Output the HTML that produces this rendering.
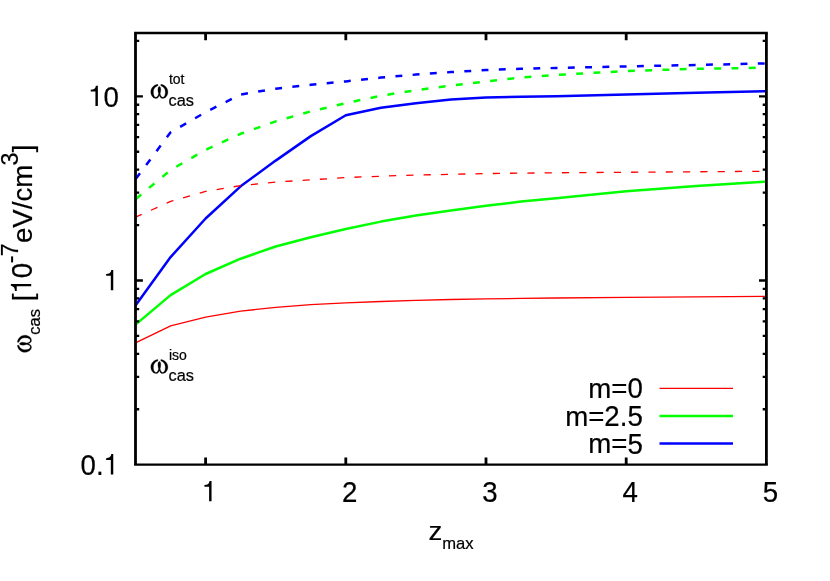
<!DOCTYPE html>
<html><head><meta charset="utf-8"><title>plot</title>
<style>html,body{margin:0;padding:0;background:#fff;}svg{display:block;will-change:transform;}text{font-family:"Liberation Sans",sans-serif;fill:#000;stroke:#000;stroke-width:0.2px;}.sym{font-family:"Liberation Serif",serif;}</style>
</head><body>
<svg width="830" height="581" viewBox="0 0 830 581">
<rect x="0" y="0" width="830" height="581" fill="#ffffff"/>
<polyline points="135.5,342.9 170.6,325.9 205.6,317.2 240.6,311.2 275.7,307.3 310.8,304.7 345.8,302.9 380.9,301.5 415.9,300.3 450.9,299.5 486.0,298.9 521.0,298.4 556.1,298.0 626.2,297.3 696.3,296.8 766.4,296.4" fill="none" stroke="#ff0000" stroke-width="1.3" stroke-linejoin="round"/>
<polyline points="135.5,324.6 170.6,295.1 205.6,274.0 240.6,258.7 275.7,246.5 310.8,237.2 345.8,229.0 380.9,221.6 415.9,215.4 450.9,210.4 486.0,205.8 521.0,201.6 556.1,198.2 626.2,191.3 696.3,186.1 766.4,181.6" fill="none" stroke="#00ff00" stroke-width="2.5" stroke-linejoin="round"/>
<polyline points="135.5,305.4 170.6,257.1 205.6,218.5 240.6,186.3 275.7,160.6 310.8,136.1 345.8,115.2 380.9,107.7 415.9,103.2 450.9,99.4 486.0,97.4 521.0,96.7 556.1,96.3 626.2,94.4 696.3,92.8 766.4,91.2" fill="none" stroke="#0000ff" stroke-width="2.5" stroke-linejoin="round"/>
<polyline points="135.5,217.2 170.6,201.4 205.6,191.4 240.6,185.6 275.7,182.1 310.8,179.8 345.8,177.6 380.9,176.2 415.9,175.1 450.9,174.3 486.0,173.6 521.0,173.1 556.1,172.8 626.2,172.3 696.3,171.8 766.4,171.3" fill="none" stroke="#ff0000" stroke-width="1.3" stroke-linejoin="round" stroke-dasharray="7.2 10.1" stroke-dashoffset="0.4"/>
<polyline points="135.5,199.3 170.6,170.0 205.6,149.9 240.6,133.8 275.7,121.4 310.8,111.4 345.8,103.2 380.9,95.7 415.9,90.2 450.9,85.6 486.0,81.4 521.0,77.6 556.1,75.0 626.2,71.0 696.3,68.8 766.4,67.7" fill="none" stroke="#00ff00" stroke-width="2.5" stroke-linejoin="round" stroke-dasharray="6.9 10.37" stroke-dashoffset="-0.5"/>
<polyline points="135.5,179.3 170.6,132.3 205.6,112.2 240.6,94.5 275.7,88.7 310.8,84.8 345.8,81.4 380.9,77.6 415.9,74.6 450.9,72.1 486.0,70.1 521.0,68.8 556.1,68.0 626.2,66.4 696.3,65.0 766.4,63.4" fill="none" stroke="#0000ff" stroke-width="2.5" stroke-linejoin="round" stroke-dasharray="6.9 10.37" stroke-dashoffset="-0.6"/>
<line x1="659.5" y1="388.35" x2="733.0" y2="388.35" stroke="#ff0000" stroke-width="1.3"/>
<line x1="659.5" y1="415.9" x2="733.0" y2="415.9" stroke="#00ff00" stroke-width="2.5"/>
<line x1="659.5" y1="443.6" x2="733.0" y2="443.6" stroke="#0000ff" stroke-width="2.5"/>
<path d="M135.50 409.25h3.70 M766.40 409.25h-3.70 M135.50 376.81h3.70 M766.40 376.81h-3.70 M135.50 353.80h3.70 M766.40 353.80h-3.70 M135.50 335.95h3.70 M766.40 335.95h-3.70 M135.50 321.36h3.70 M766.40 321.36h-3.70 M135.50 309.03h3.70 M766.40 309.03h-3.70 M135.50 298.35h3.70 M766.40 298.35h-3.70 M135.50 288.93h3.70 M766.40 288.93h-3.70 M135.50 280.50h7.40 M766.40 280.50h-7.40 M135.50 225.05h3.70 M766.40 225.05h-3.70 M135.50 192.61h3.70 M766.40 192.61h-3.70 M135.50 169.60h3.70 M766.40 169.60h-3.70 M135.50 151.75h3.70 M766.40 151.75h-3.70 M135.50 137.16h3.70 M766.40 137.16h-3.70 M135.50 124.83h3.70 M766.40 124.83h-3.70 M135.50 114.15h3.70 M766.40 114.15h-3.70 M135.50 104.73h3.70 M766.40 104.73h-3.70 M135.50 96.30h7.40 M766.40 96.30h-7.40 M135.50 40.85h3.70 M766.40 40.85h-3.70" stroke="#000" stroke-width="2.3" fill="none"/>
<path d="M205.60 464.70v-7.15 M205.60 33.00v7.15 M345.80 464.70v-7.15 M345.80 33.00v7.15 M486.00 464.70v-7.15 M486.00 33.00v7.15 M626.20 464.70v-7.15 M626.20 33.00v7.15" stroke="#000" stroke-width="2.8" fill="none"/>
<path d="M134.10 33.00H767.80 M134.10 464.70H767.80" stroke="#000" stroke-width="2.3" fill="none"/>
<path d="M135.50 33.00V464.70 M766.40 33.00V464.70" stroke="#000" stroke-width="2.8" fill="none"/>
<text transform="translate(103.62,106.60) scale(1,1.080)" font-size="27.67" text-anchor="start">0</text>
<path d="M0.359 0H0.271V-0.505H0.102V-0.568C0.200 -0.570 0.270 -0.600 0.290 -0.709H0.359Z" transform="translate(87.93,106.00) scale(27.670,28.638)"/>
<path d="M0.359 0H0.271V-0.505H0.102V-0.568C0.200 -0.570 0.270 -0.600 0.290 -0.709H0.359Z" transform="translate(103.32,290.20) scale(27.670,28.638)"/>
<path d="M0.359 0H0.271V-0.505H0.102V-0.568C0.200 -0.570 0.270 -0.600 0.290 -0.709H0.359Z" transform="translate(103.32,474.40) scale(27.670,28.638)"/>
<text transform="translate(95.92,475.00) scale(1,1.080)" font-size="27.67" text-anchor="start">.</text>
<text transform="translate(80.54,475.00) scale(1,1.080)" font-size="27.67" text-anchor="start">0</text>
<path d="M0.359 0H0.271V-0.505H0.102V-0.568C0.200 -0.570 0.270 -0.600 0.290 -0.709H0.359Z" transform="translate(201.61,501.20) scale(27.670,28.638)"/>
<text transform="translate(342.11,501.80) scale(1,1.080)" font-size="27.67" text-anchor="start">2</text>
<text transform="translate(482.31,501.80) scale(1,1.080)" font-size="27.67" text-anchor="start">3</text>
<text transform="translate(622.51,501.80) scale(1,1.080)" font-size="27.67" text-anchor="start">4</text>
<text transform="translate(762.71,501.80) scale(1,1.080)" font-size="27.67" text-anchor="start">5</text>
<text transform="translate(627.42,398.10) scale(1,1.080)" font-size="27.67" text-anchor="start">0</text>
<text transform="translate(627.42,397.80) scale(1,1.000)" font-size="27.67" text-anchor="end">m=</text>
<text transform="translate(627.42,425.80) scale(1,1.080)" font-size="27.67" text-anchor="start">5</text>
<text transform="translate(619.72,425.80) scale(1,1.080)" font-size="27.67" text-anchor="start">.</text>
<text transform="translate(604.34,425.80) scale(1,1.080)" font-size="27.67" text-anchor="start">2</text>
<text transform="translate(604.34,425.50) scale(1,1.000)" font-size="27.67" text-anchor="end">m=</text>
<text transform="translate(627.42,453.50) scale(1,1.080)" font-size="27.67" text-anchor="start">5</text>
<text transform="translate(627.42,453.20) scale(1,1.000)" font-size="27.67" text-anchor="end">m=</text>
<text transform="translate(428.60,540.20) scale(1,0.940)" font-size="27.67" text-anchor="start">z</text>
<text transform="translate(442.20,548.60) scale(1,1.000)" font-size="16.60" text-anchor="start">max</text>
<path transform="translate(150.50,98.50)" d="M 7.37 -14.17 C 3.59 -13.84 0.30 -10.63 0.30 -6.75 C 0.30 -2.87 2.60 0.00 5.56 0.00 C 7.21 0.00 8.36 -1.52 8.85 -3.21 C 9.34 -1.52 10.49 0.00 12.14 0.00 C 15.10 0.00 17.40 -2.87 17.40 -6.75 C 17.40 -10.63 14.11 -13.84 10.33 -14.17 L 10.33 -12.65 C 13.13 -11.81 14.84 -9.62 14.84 -6.58 C 14.84 -3.21 13.78 -1.18 12.14 -1.18 C 10.82 -1.18 9.84 -3.21 9.67 -4.89 C 10.17 -6.92 10.49 -8.61 10.17 -10.29 C 9.84 -11.64 9.18 -11.98 8.85 -11.98 C 8.52 -11.98 7.86 -11.64 7.53 -10.29 C 7.21 -8.61 7.53 -6.92 8.03 -4.89 C 7.86 -3.21 6.88 -1.18 5.56 -1.18 C 3.92 -1.18 2.87 -3.21 2.87 -6.58 C 2.87 -9.62 4.58 -11.81 7.37 -12.65 Z" stroke="#000" stroke-width="0.25"/>
<text transform="translate(168.90,84.30) scale(1,1.000)" font-size="14.00" text-anchor="start">tot</text>
<text transform="translate(168.60,106.30) scale(1,1.000)" font-size="16.35" text-anchor="start">cas</text>
<path transform="translate(150.50,373.60)" d="M 7.37 -14.17 C 3.59 -13.84 0.30 -10.63 0.30 -6.75 C 0.30 -2.87 2.60 0.00 5.56 0.00 C 7.21 0.00 8.36 -1.52 8.85 -3.21 C 9.34 -1.52 10.49 0.00 12.14 0.00 C 15.10 0.00 17.40 -2.87 17.40 -6.75 C 17.40 -10.63 14.11 -13.84 10.33 -14.17 L 10.33 -12.65 C 13.13 -11.81 14.84 -9.62 14.84 -6.58 C 14.84 -3.21 13.78 -1.18 12.14 -1.18 C 10.82 -1.18 9.84 -3.21 9.67 -4.89 C 10.17 -6.92 10.49 -8.61 10.17 -10.29 C 9.84 -11.64 9.18 -11.98 8.85 -11.98 C 8.52 -11.98 7.86 -11.64 7.53 -10.29 C 7.21 -8.61 7.53 -6.92 8.03 -4.89 C 7.86 -3.21 6.88 -1.18 5.56 -1.18 C 3.92 -1.18 2.87 -3.21 2.87 -6.58 C 2.87 -9.62 4.58 -11.81 7.37 -12.65 Z" stroke="#000" stroke-width="0.25"/>
<text transform="translate(168.90,359.90) scale(1,1.000)" font-size="14.00" text-anchor="start">iso</text>
<text transform="translate(168.60,381.40) scale(1,1.000)" font-size="16.35" text-anchor="start">cas</text>
<g transform="translate(31.5,353.7) rotate(-90)">
<path transform="translate(1.10,0.00)" d="M 7.37 -14.17 C 3.59 -13.84 0.30 -10.63 0.30 -6.75 C 0.30 -2.87 2.60 0.00 5.56 0.00 C 7.21 0.00 8.36 -1.52 8.85 -3.21 C 9.34 -1.52 10.49 0.00 12.14 0.00 C 15.10 0.00 17.40 -2.87 17.40 -6.75 C 17.40 -10.63 14.11 -13.84 10.33 -14.17 L 10.33 -12.65 C 13.13 -11.81 14.84 -9.62 14.84 -6.58 C 14.84 -3.21 13.78 -1.18 12.14 -1.18 C 10.82 -1.18 9.84 -3.21 9.67 -4.89 C 10.17 -6.92 10.49 -8.61 10.17 -10.29 C 9.84 -11.64 9.18 -11.98 8.85 -11.98 C 8.52 -11.98 7.86 -11.64 7.53 -10.29 C 7.21 -8.61 7.53 -6.92 8.03 -4.89 C 7.86 -3.21 6.88 -1.18 5.56 -1.18 C 3.92 -1.18 2.87 -3.21 2.87 -6.58 C 2.87 -9.62 4.58 -11.81 7.37 -12.65 Z" stroke="#000" stroke-width="0.25"/>
<text transform="translate(19.00,8.30) scale(1,1.000)" font-size="16.60" text-anchor="start">cas</text>
<text transform="translate(52.50,0.00) scale(1,1.000)" font-size="27.67" text-anchor="start">[</text>
<path d="M0.359 0H0.271V-0.505H0.102V-0.568C0.200 -0.570 0.270 -0.600 0.290 -0.709H0.359Z" transform="translate(59.89,-0.30) scale(27.670,28.638)"/>
<text transform="translate(75.57,0.00) scale(1,1.080)" font-size="27.67" text-anchor="start">0</text>
<text transform="translate(90.35,-13.80) scale(1,1.000)" font-size="23.30" text-anchor="start">-</text>
<text transform="translate(97.52,-13.80) scale(1,1.030)" font-size="23.30" text-anchor="start">7</text>
<text transform="translate(110.63,0.00) scale(1,1.000)" font-size="27.67" text-anchor="start">eV/cm</text>
<text transform="translate(188.23,-13.80) scale(1,1.030)" font-size="23.30" text-anchor="start">3</text>
<text transform="translate(201.33,0.00) scale(1,1.000)" font-size="27.67" text-anchor="start">]</text>
</g>
</svg>
</body></html>
